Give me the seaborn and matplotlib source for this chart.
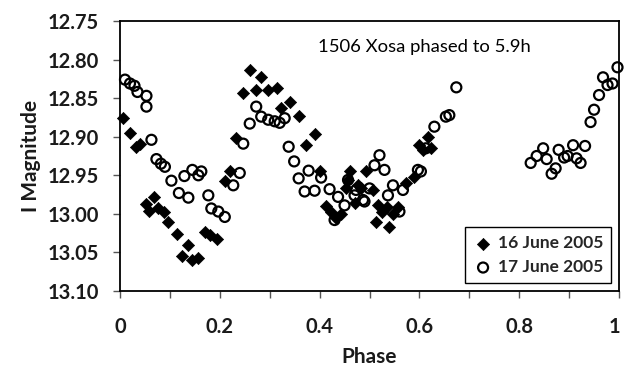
import numpy as np
import pandas as pd
import matplotlib
matplotlib.use("Agg")
import matplotlib.pyplot as plt
import matplotlib.transforms as mtransforms
import seaborn as sns
from matplotlib.ticker import FixedLocator, MultipleLocator

# ---------------- data ----------------
jun16_phase = [0.006, 0.020, 0.032, 0.040, 0.052, 0.058, 0.068, 0.076, 0.088, 0.096,
               0.114, 0.124, 0.136, 0.144, 0.156, 0.170, 0.180, 0.194, 0.210, 0.220,
               0.233, 0.246, 0.261, 0.273, 0.283, 0.296, 0.315, 0.323, 0.340, 0.359,
               0.372, 0.390, 0.400, 0.413, 0.423, 0.433, 0.443, 0.453, 0.457, 0.460,
               0.470, 0.477, 0.483, 0.493, 0.507, 0.513, 0.517, 0.526, 0.536, 0.540,
               0.547, 0.557, 0.573, 0.590, 0.600, 0.607, 0.617, 0.623]
jun16_mag = [12.876, 12.895, 12.913, 12.910, 12.987, 12.996, 12.978, 12.992, 12.998, 13.011,
             13.026, 13.055, 13.040, 13.060, 13.057, 13.024, 13.028, 13.033, 12.958, 12.945,
             12.902, 12.843, 12.814, 12.839, 12.823, 12.839, 12.837, 12.863, 12.855, 12.873,
             12.911, 12.896, 12.945, 12.990, 12.997, 13.005, 13.000, 12.967, 12.956, 12.945,
             12.986, 12.963, 12.967, 12.945, 12.969, 13.010, 12.989, 12.997, 12.991, 13.017,
             13.000, 12.991, 12.960, 12.952, 12.911, 12.917, 12.900, 12.915]

jun17_phase = [0.010, 0.020, 0.029, 0.035, 0.053, 0.053, 0.063, 0.073, 0.082, 0.090,
               0.103, 0.118, 0.129, 0.137, 0.145, 0.157, 0.163, 0.177, 0.183, 0.197,
               0.210, 0.227, 0.240, 0.247, 0.260, 0.273, 0.283, 0.297, 0.310, 0.320,
               0.330, 0.338, 0.349, 0.358, 0.370, 0.378, 0.390, 0.403, 0.420, 0.430,
               0.437, 0.450, 0.457, 0.470, 0.473, 0.487, 0.490, 0.500, 0.510, 0.520,
               0.530, 0.537, 0.547, 0.560, 0.567, 0.597, 0.603, 0.613, 0.630, 0.653,
               0.660, 0.674, 0.823, 0.835, 0.848, 0.855, 0.865, 0.873, 0.879, 0.890,
               0.897, 0.908, 0.915, 0.923, 0.932, 0.943, 0.950, 0.960, 0.968, 0.977,
               0.987, 0.997]
jun17_mag = [12.826, 12.831, 12.834, 12.842, 12.847, 12.861, 12.904, 12.929, 12.935, 12.939,
             12.957, 12.973, 12.951, 12.979, 12.943, 12.950, 12.945, 12.976, 12.993, 12.997,
             13.004, 12.963, 12.947, 12.909, 12.883, 12.861, 12.874, 12.878, 12.880, 12.882,
             12.876, 12.913, 12.932, 12.954, 12.971, 12.944, 12.970, 12.953, 12.968, 13.008,
             12.978, 12.989, 12.956, 12.976, 12.969, 12.982, 12.984, 12.967, 12.937, 12.924,
             12.943, 12.976, 12.963, 12.997, 12.969, 12.943, 12.945, 12.915, 12.887, 12.874,
             12.872, 12.836, 12.934, 12.925, 12.915, 12.929, 12.948, 12.941, 12.917, 12.927,
             12.925, 12.911, 12.928, 12.934, 12.912, 12.881, 12.865, 12.846, 12.823, 12.833,
             12.831, 12.810]

series_labels = ["16 June 2005", "17 June 2005"]
x_ticks = [0, 0.2, 0.4, 0.6, 0.8, 1.0]
x_tick_labels = ["0", "0.2", "0.4", "0.6", "0.8", "1"]
y_ticks = [12.75, 12.80, 12.85, 12.90, 12.95, 13.00, 13.05, 13.10]
y_tick_labels = ["12.75", "12.80", "12.85", "12.90", "12.95", "13.00", "13.05", "13.10"]
title_text = "1506 Xosa phased to 5.9h"
x_label = "Phase"
y_label = "I Magnitude"

df16 = pd.DataFrame({"phase": jun16_phase, "mag": jun16_mag})
df17 = pd.DataFrame({"phase": jun17_phase, "mag": jun17_mag})

# ---------------- plot ----------------
sns.set_theme(style="white")
plt.rcParams["font.family"] = ["Lato", "DejaVu Sans"]

fig = plt.figure(figsize=(6.24, 3.68), dpi=100)
ax = fig.add_axes([120 / 624, 1 - 291 / 368, 499 / 624, 270 / 368])

sns.scatterplot(data=df16, x="phase", y="mag", ax=ax, marker="D", s=6.2 ** 2,
                color="black", edgecolor="black", linewidth=0.5,
                label=series_labels[0], clip_on=False, zorder=3)
sns.scatterplot(data=df17, x="phase", y="mag", ax=ax, marker="o", s=7.2 ** 2,
                facecolors="none", edgecolor="black", linewidth=1.6,
                label=series_labels[1], clip_on=False, zorder=3)

ax.set_xlim(0, 1)
ax.set_ylim(13.10, 12.75)
ax.xaxis.set_major_locator(FixedLocator(x_ticks))
ax.set_xticklabels(x_tick_labels)
ax.xaxis.set_minor_locator(MultipleLocator(0.1))
ax.yaxis.set_major_locator(FixedLocator(y_ticks))
ax.set_yticklabels(y_tick_labels)

for sp in ax.spines.values():
    sp.set_visible(True)
    sp.set_color("black")
    sp.set_linewidth(1.3)

ax.tick_params(axis="both", which="both", direction="out", length=5, width=1,
               color="#555555", labelsize=14.5, bottom=True, left=True)
ax.tick_params(axis="y", which="both", pad=10)
ax.tick_params(axis="x", which="both", pad=14)
for lab in ax.get_xticklabels() + ax.get_yticklabels():
    lab.set_fontweight("bold")
    lab.set_color("#1a1a1a")

# keep the last x tick label inside the figure
last = ax.get_xticklabels()[-1]
last.set_transform(last.get_transform() +
                   mtransforms.ScaledTranslation(-5 / 100, 0, fig.dpi_scale_trans))

ax.set_xlabel(x_label, fontsize=15, fontweight="bold", labelpad=7, color="#1a1a1a")
ax.set_ylabel(y_label, fontsize=15, fontweight="bold", labelpad=5, color="#1a1a1a")

ax.text(0.396, 0.904, title_text, transform=ax.transAxes, fontsize=13.3,
        ha="left", va="center", color="black")

leg = ax.legend(loc="lower right", bbox_to_anchor=(0.984, 0.03), borderaxespad=0,
                frameon=True, fancybox=False, edgecolor="black", framealpha=1,
                handletextpad=0.25, handlelength=1.2, borderpad=0.45, labelspacing=0.45,
                prop={"weight": "bold", "size": 12.5})
leg.get_frame().set_linewidth(1.0)

fig.savefig("out.png", dpi=100)
